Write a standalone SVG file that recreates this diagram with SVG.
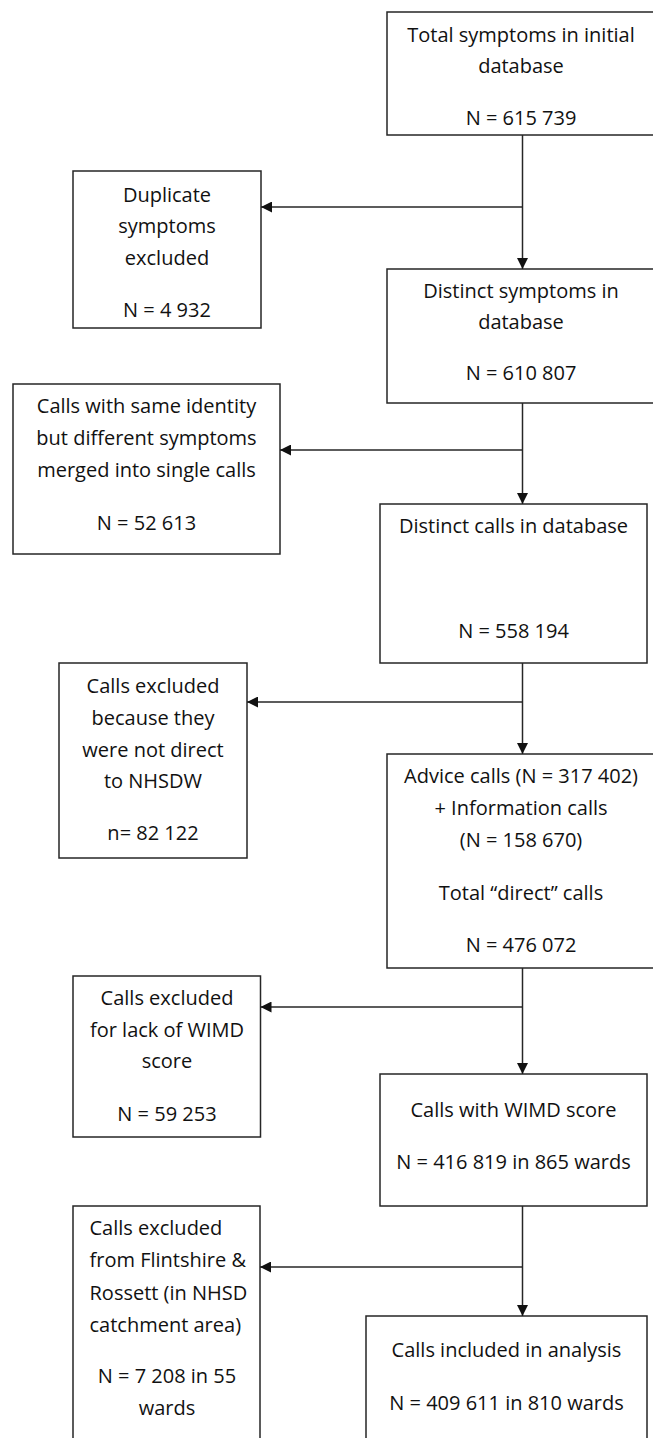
<svg xmlns="http://www.w3.org/2000/svg" width="653" height="1438" viewBox="0 0 653 1438">
<style>
.box{fill:#fff;stroke:#262626;stroke-width:1.5}
text{font-family:"Open Sans","Liberation Sans",Arial,sans-serif;font-size:20px;fill:#111}
.c{text-anchor:middle}
.l{text-anchor:start}
.conn line{stroke:#262626;stroke-width:1.5;fill:none}
</style>
<defs>
<marker id="ah" markerUnits="userSpaceOnUse" markerWidth="11" markerHeight="11" refX="11" refY="5.5" orient="auto" viewBox="0 0 11 11">
<path d="M0,0 L11,5.5 L0,11 z" fill="#111"/>
</marker>
</defs>
<rect width="653" height="1438" fill="#fff"/>

<g id="n1">
<rect class="box" x="387" y="12" width="275" height="123"/>
<text class="c" x="521" y="42">Total symptoms in initial</text>
<text class="c" x="521" y="73">database</text>
<text class="c" x="521" y="125">N = 615 739</text>
</g>

<g id="n2">
<rect class="box" x="73" y="171" width="188" height="157"/>
<text class="c" x="167" y="202">Duplicate</text>
<text class="c" x="167" y="233">symptoms</text>
<text class="c" x="167" y="265">excluded</text>
<text class="c" x="167" y="317">N = 4 932</text>
</g>

<g id="n3">
<rect class="box" x="387" y="269" width="275" height="134"/>
<text class="c" x="521" y="298">Distinct symptoms in</text>
<text class="c" x="521" y="329">database</text>
<text class="c" x="521" y="380">N = 610 807</text>
</g>

<g id="n4">
<rect class="box" x="13" y="384" width="267" height="170"/>
<text class="c" x="146.5" y="413">Calls with same identity</text>
<text class="c" x="146.5" y="445">but different symptoms</text>
<text class="c" x="146.5" y="477">merged into single calls</text>
<text class="c" x="146.5" y="530">N = 52 613</text>
</g>

<g id="n5">
<rect class="box" x="380" y="504" width="267" height="159"/>
<text class="c" x="513.5" y="533">Distinct calls in database</text>
<text class="c" x="513.5" y="638">N = 558 194</text>
</g>

<g id="n6">
<rect class="box" x="59" y="663" width="188" height="195"/>
<text class="c" x="153" y="693">Calls excluded</text>
<text class="c" x="153" y="725">because they</text>
<text class="c" x="153" y="757">were not direct</text>
<text class="c" x="153" y="788">to NHSDW</text>
<text class="c" x="153" y="840">n= 82 122</text>
</g>

<g id="n7">
<rect class="box" x="387" y="754" width="275" height="214"/>
<text class="c" x="521" y="783">Advice calls (N = 317 402)</text>
<text class="c" x="521" y="815">+ Information calls</text>
<text class="c" x="521" y="847">(N = 158 670)</text>
<text class="c" x="521" y="900">Total “direct” calls</text>
<text class="c" x="521" y="952">N = 476 072</text>
</g>

<g id="n8">
<rect class="box" x="73" y="976" width="187.5" height="161"/>
<text class="c" x="167" y="1005">Calls excluded</text>
<text class="c" x="167" y="1037">for lack of WIMD</text>
<text class="c" x="167" y="1068">score</text>
<text class="c" x="167" y="1121">N = 59 253</text>
</g>

<g id="n9">
<rect class="box" x="380" y="1074" width="267" height="132"/>
<text class="c" x="513.5" y="1117">Calls with WIMD score</text>
<text class="c" x="513.5" y="1169">N = 416 819 in 865 wards</text>
</g>

<g id="n10">
<rect class="box" x="73" y="1206" width="187" height="245"/>
<text class="l" x="89.5" y="1235">Calls excluded</text>
<text class="l" x="89.5" y="1267">from Flintshire &amp;</text>
<text class="l" x="89.5" y="1300">Rossett (in NHSD</text>
<text class="l" x="89.5" y="1332">catchment area)</text>
<text class="c" x="167" y="1383">N = 7 208 in 55</text>
<text class="c" x="167" y="1415">wards</text>
</g>

<g id="n11">
<rect class="box" x="366" y="1316" width="281" height="135"/>
<text class="c" x="506.5" y="1357">Calls included in analysis</text>
<text class="c" x="506.5" y="1410">N = 409 611 in 810 wards</text>
</g>

<g id="connectors" class="conn">
<line x1="522.5" y1="135" x2="522.5" y2="269" marker-end="url(#ah)"/>
<line x1="522.5" y1="207" x2="261" y2="207" marker-end="url(#ah)"/>
<line x1="522.5" y1="403" x2="522.5" y2="504" marker-end="url(#ah)"/>
<line x1="522.5" y1="450" x2="280" y2="450" marker-end="url(#ah)"/>
<line x1="522.5" y1="663" x2="522.5" y2="754" marker-end="url(#ah)"/>
<line x1="522.5" y1="702" x2="247" y2="702" marker-end="url(#ah)"/>
<line x1="522.5" y1="968" x2="522.5" y2="1074" marker-end="url(#ah)"/>
<line x1="522.5" y1="1007" x2="260.5" y2="1007" marker-end="url(#ah)"/>
<line x1="522.5" y1="1206" x2="522.5" y2="1316" marker-end="url(#ah)"/>
<line x1="522.5" y1="1267" x2="260" y2="1267" marker-end="url(#ah)"/>
</g>
</svg>
